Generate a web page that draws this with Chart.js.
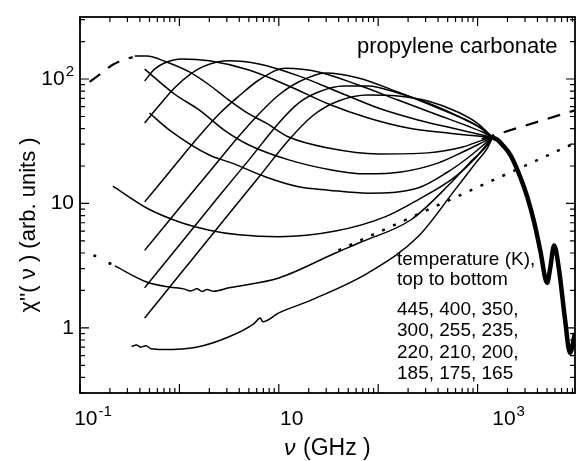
<!DOCTYPE html>
<html>
<head>
<meta charset="utf-8">
<script src="https://cdn.jsdelivr.net/npm/chart.js@4.4.1/dist/chart.umd.min.js"></script>
<style>
  html, body { margin: 0; padding: 0; background: #fff; }
  #wrap { width: 579px; height: 461px; position: relative; }
</style>
</head>
<body>
<div id="wrap"><canvas id="chart"></canvas></div>
<script>
// [frequency (GHz), chi'' (arb. units)]
const t445 = [[0.447,1.20],[1.0,2.66],[2.82,7.4],[6.31,16.3],[12.6,32.4],[22.4,51.4],[39.8,66.6],[79.4,74.4],[158,73.0],[316,66.6],[631,54.3],[1000,44],[1413,34]];
const t400 = [[0.447,2.10],[1.0,4.64],[2.51,11.5],[5.01,22.4],[10,44.4],[15.8,64.1],[25.1,78.6],[44.7,87.9],[79.4,87.9],[158,77.2],[316,64.1],[631,50.5],[1000,42],[1413,34]];
const t350 = [[0.447,4.2],[1.0,9.2],[2.0,17.9],[3.98,34.8],[6.31,52.4],[10,74.4],[15.8,94.6],[29.5,112],[63.1,102],[158,78.6],[398,58.5],[794,46.0],[1122,39.5],[1413,34]];
const t300 = [[0.447,10.3],[0.794,17.9],[1.58,34.8],[2.51,52.4],[3.98,73.0],[6.31,98.2],[11.7,122],[25.1,114],[63.1,89.5],[158,67.8],[398,51.4],[794,41.9],[1122,37.5],[1413,34]];
const t255 = [[0.447,44.4],[0.631,61.8],[0.891,84.7],[1.26,108],[1.78,127],[3.16,140],[6.31,132],[15.8,106],[39.8,78.6],[100,58.5],[251,46.9],[501,41.1],[1000,36.2],[1413,34]];
const t235 = [[0.447,96.4],[0.562,120],[0.708,134.5],[1.07,145],[2.0,140],[5.01,118],[12.6,87.9],[31.6,63],[79.4,48.6],[200,40.4],[501,36.8],[1000,34.8],[1413,34]];
const t220 = [[0.355,153],[0.468,153],[0.741,137],[1.26,114],[2.0,89.5],[2.95,70.4],[5.01,52.4],[7.41,44.4],[12.6,34.2],[31.6,27.9],[100,25.0],[316,25.5],[708,28.4],[1122,32.3],[1413,34]];
const t210 = [[0.447,120],[0.891,75.8],[1.58,56.4],[2.82,38.9],[5.01,29.5],[12.6,22.4],[33.9,18.6],[74.1,17.3],[170,17.9],[398,21.1],[708,25.9],[1122,31],[1413,34]];
const t200 = [[0.5,53.3],[0.794,38.9],[2.0,24.5],[3.39,21.1],[7.41,16.3],[15.8,13.6],[31.6,12.8],[79.4,12.1],[251,13.3],[501,17.9],[794,23.2],[1175,30],[1413,34]];
const t185 = [[0.214,13.8],[0.468,9.2],[1.0,7.1],[2.0,6.1],[3.98,5.6],[10,5.4],[37.2,6.0],[117,7.8],[251,10.7],[589,16.3],[955,23.2],[1202,29],[1413,34]];
const t175 = [[0.224,3.15],[0.468,2.34],[0.794,2.13],[1.1,2.06],[1.3,1.98],[1.5,2.06],[1.7,1.96],[1.9,2.04],[2.2,1.97],[3.16,2.10],[10,2.52],[37.2,4.0],[67.6,4.9],[214,7.4],[537,14.6],[891,22.4],[1259,29.5],[1413,34]];
const t165 = [[0.331,0.71],[0.37,0.73],[0.41,0.70],[0.46,0.72],[0.52,0.68],[0.676,0.67],[1.48,0.70],[3.16,0.85],[5.6,1.08],[6.5,1.2],[6.9,1.12],[10,1.32],[21.4,1.68],[79.4,2.77],[251,5.4],[589,12.8],[955,21.1],[1259,28],[1413,34]];
const t175dots = [[0.141,3.8],[0.2,3.3]];
// common high-frequency part where all temperatures overlap
const tail = [[1413,34],[1585,32.5],[1780,29.5],[2140,24.5],[2690,16.3],[3160,11.3],[3720,7.0],[4270,4.2],[5010,2.3],[5370,3.0],[5890,4.6],[6610,2.9],[7590,1.16],[8510,0.63],[9550,0.91]];
const dashLow = [[0.125,95],[0.166,112],[0.209,129],[0.269,142],[0.339,150]];
const dashHigh = [[1100,33],[9550,56]];
const dotLine = [[39.8,4.2],[9550,30.6]];

const xLabels = [[0.1,'10','-1'],[10,'10',''],[1000,'10','3']];
const yLabels = [[1,'1',''],[10,'10',''],[100,'10','2']];
const tempLines = ['445, 400, 350,','300, 255, 235,','220, 210, 200,','185, 175, 165'];

const curves = [t445,t400,t350,t300,t255,t235,t220,t210,t200,t185,t175,t165];
const toXY = pts => pts.map(p => ({x: p[0], y: p[1]}));

const datasets = curves.map(c => ({
  data: toXY(c), showLine: true, borderColor: '#000', borderWidth: 1.5,
  pointRadius: 0, cubicInterpolationMode: 'monotone'
}));
datasets.push({data: toXY(tail), showLine: true, borderColor: '#000', borderWidth: 4.5, pointRadius: 0, cubicInterpolationMode: 'monotone'});
datasets.push({data: toXY(dashLow), showLine: true, borderColor: '#000', borderWidth: 2.2, borderDash: [13, 10], pointRadius: 0, cubicInterpolationMode: 'monotone'});
datasets.push({data: toXY(dashHigh), showLine: true, borderColor: '#000', borderWidth: 2.2, borderDash: [13, 10], pointRadius: 0});
datasets.push({data: toXY(dotLine), showLine: true, borderColor: '#000', borderWidth: 2.5, borderDash: [3, 9], pointRadius: 0});
datasets.push({data: toXY(t175dots), showLine: false, backgroundColor: '#000', borderWidth: 0, pointRadius: 1.6});

const FONT = '"Liberation Sans", Arial, Helvetica, sans-serif';

function powText(ctx, base, sup, x, y, align, size) {
  ctx.font = size + 'px ' + FONT;
  const wb = ctx.measureText(base).width;
  ctx.font = Math.round(size * 0.7) + 'px ' + FONT;
  const ws = sup ? ctx.measureText(sup).width + 1 : 0;
  const w = wb + ws;
  let left = align === 'right' ? x - w : align === 'center' ? x - w / 2 : x;
  ctx.textAlign = 'left';
  ctx.font = size + 'px ' + FONT;
  ctx.fillText(base, left, y);
  if (sup) {
    ctx.font = Math.round(size * 0.7) + 'px ' + FONT;
    ctx.fillText(sup, left + wb + 1, y - size * 0.45);
  }
}

const frame = {
  id: 'frame',
  afterDraw(chart) {
    const {ctx, chartArea: a, scales: {x, y}} = chart;
    ctx.save();
    ctx.strokeStyle = '#000';
    ctx.fillStyle = '#000';
    ctx.lineWidth = 1.8;
    ctx.strokeRect(a.left, a.top, a.right - a.left, a.bottom - a.top);
    ctx.lineWidth = 1.2;
    ctx.beginPath();
    for (let e = -1; e <= 3; e++) {
      for (let m = 1; m <= 9; m++) {
        const v = m * Math.pow(10, e);
        if (v < x.min || v > x.max) continue;
        const px = x.getPixelForValue(v);
        const L = m === 1 ? 9 : 5;
        ctx.moveTo(px, a.bottom); ctx.lineTo(px, a.bottom - L);
        ctx.moveTo(px, a.top); ctx.lineTo(px, a.top + L);
      }
    }
    for (let e = -1; e <= 2; e++) {
      for (let m = 1; m <= 9; m++) {
        const v = m * Math.pow(10, e);
        if (v < y.min || v > y.max) continue;
        const py = y.getPixelForValue(v);
        const L = m === 1 ? 9 : 5;
        ctx.moveTo(a.left, py); ctx.lineTo(a.left + L, py);
        ctx.moveTo(a.right, py); ctx.lineTo(a.right - L, py);
      }
    }
    ctx.stroke();

    ctx.textBaseline = 'alphabetic';
    const xShift = [13, 13, 31];
    xLabels.forEach((l, i) => powText(ctx, l[1], l[2], x.getPixelForValue(l[0]) + xShift[i], 425, 'center', 21));
    yLabels.forEach(l => powText(ctx, l[1], l[2], 74, y.getPixelForValue(l[0]) + 6, 'right', 21));

    // axis titles
    ctx.font = '22px ' + FONT;
    ctx.save();
    ctx.translate(35, 225);
    ctx.rotate(-Math.PI / 2);
    ctx.textAlign = 'center';
    ctx.fillText("\u03C7''( \u03BD ) (arb. units )", 0, 0);
    ctx.restore();

    ctx.textAlign = 'left';
    ctx.font = 'italic 23px ' + FONT;
    ctx.fillText('\u03BD', 284, 455);
    ctx.font = '23px ' + FONT;
    ctx.fillText('(GHz )', 303, 455);

    ctx.font = '22px ' + FONT;
    ctx.fillText('propylene carbonate', 357, 53);

    ctx.font = '19px ' + FONT;
    ctx.fillText('temperature (K),', 397, 265);
    ctx.fillText('top to bottom', 397, 285);
    tempLines.forEach((t, i) => ctx.fillText(t, 397, 315 + i * 21.3));
    ctx.restore();
  }
};

new Chart(document.getElementById('chart'), {
  type: 'scatter',
  data: {datasets},
  options: {
    responsive: true,
    maintainAspectRatio: false,
    animation: false,
    layout: {padding: {left: 0, right: 1, top: 17, bottom: 0}},
    plugins: {legend: {display: false}, tooltip: {enabled: false}},
    scales: {
      x: {
        type: 'logarithmic', min: 0.1, max: 9550,
        grid: {display: false}, border: {display: false}, ticks: {display: false},
        afterFit(s) { s.height = 68; }
      },
      y: {
        type: 'logarithmic', min: 0.3, max: 315,
        grid: {display: false}, border: {display: false}, ticks: {display: false},
        afterFit(s) { s.width = 80; }
      }
    }
  },
  plugins: [frame]
});
</script>
</body>
</html>
